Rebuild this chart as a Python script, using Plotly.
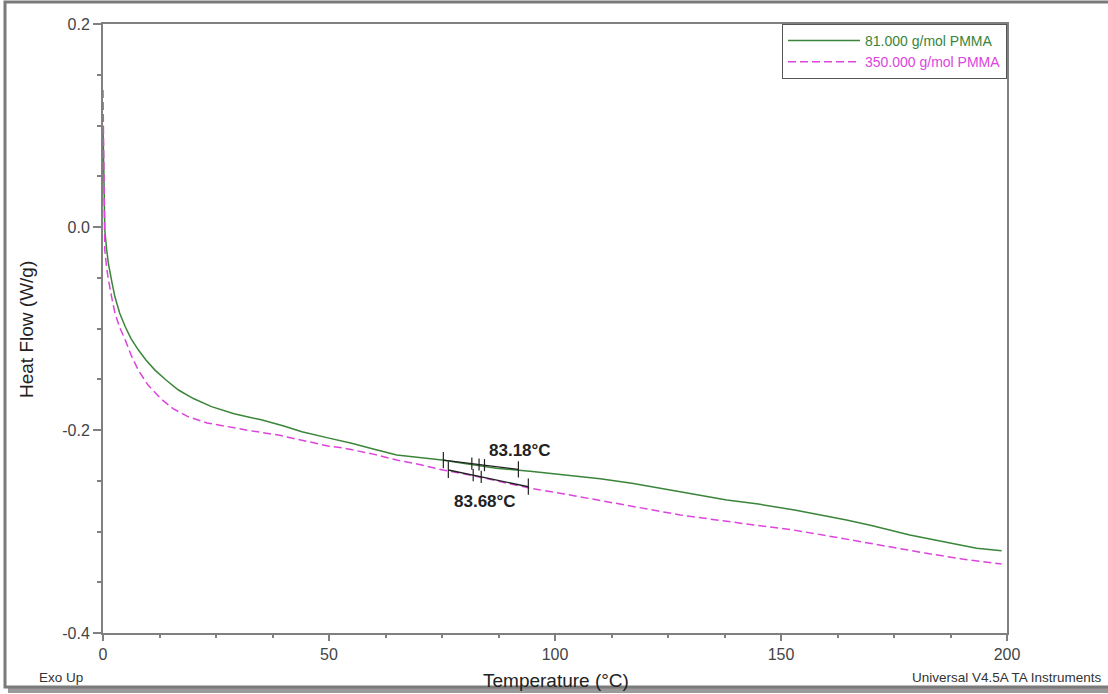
import plotly.graph_objects as go

# ---------------- data ----------------
temp_81k = [0, 0.15, 0.3, 0.4, 0.8, 1.2, 2, 2.65, 3.7, 4.9, 6.2, 7.8, 9.5, 11.5, 14, 16.7,
            20, 24, 29, 35, 40, 44, 50, 55, 60, 65, 70, 75, 80, 87, 95, 102, 110, 117,
            123, 128, 138, 145, 153, 158, 164.5, 170, 178.5, 186, 193.3, 198.8]
heat_81k = [0.10, 0.06, 0.02, -0.003, -0.022, -0.036, -0.055, -0.069, -0.085, -0.098,
            -0.110, -0.121, -0.131, -0.141, -0.151, -0.1606, -0.169, -0.177, -0.184,
            -0.190, -0.196, -0.2017, -0.208, -0.213, -0.219, -0.2246, -0.227, -0.2296,
            -0.233, -0.2377, -0.241, -0.244, -0.248, -0.2525, -0.257, -0.261, -0.269,
            -0.273, -0.2788, -0.283, -0.2887, -0.294, -0.3034, -0.310, -0.3166, -0.319]

temp_350k = [0, 0.1, 0.2, 0.4, 0.8, 1.2, 2, 2.65, 3.7, 4.9, 6.2, 7.8, 10, 13, 15.5, 18.9,
             23, 27.7, 33, 38.8, 45, 50, 53.5, 60, 65, 70, 75.2, 82, 88, 94.5, 102, 109.2,
             118, 123.2, 127.7, 138, 145, 152.7, 160, 167.5, 175, 182.2, 190, 198.8]
heat_350k = [0.135, 0.09, 0.04, -0.0227, -0.040, -0.052, -0.071, -0.085, -0.099, -0.111,
             -0.126, -0.141, -0.156, -0.170, -0.179, -0.187, -0.193, -0.197, -0.201,
             -0.205, -0.211, -0.216, -0.218, -0.224, -0.2296, -0.234, -0.2394, -0.245,
             -0.251, -0.2574, -0.263, -0.269, -0.276, -0.2805, -0.2837, -0.290, -0.294,
             -0.2985, -0.304, -0.310, -0.316, -0.3215, -0.327, -0.332]

series_names = ["81.000 g/mol PMMA", "350.000 g/mol PMMA"]
series_colors = ["#3a853a", "#dd44dd"]

# glass-transition analysis (onset / mid / end temperatures and heat flow at ends)
tg_values = [83.18, 83.68]
tg_start_temp = [75.3, 76.4]
tg_start_heat = [-0.2296, -0.2394]
tg_end_temp = [91.9, 94.1]
tg_end_heat = [-0.2388, -0.2559]
tg_mid_marks = [[81.6, 83.2, 84.4], [81.9, 83.68]]
tg_label_temp = [92.3, 84.5]
tg_label_heat = [-0.2197, -0.270]

x_tickvals = [0, 50, 100, 150, 200]
x_ticktext = ["0", "50", "100", "150", "200"]
y_tickvals = [0.2, 0.0, -0.2, -0.4]
y_ticktext = ["0.2", "0.0", "-0.2", "-0.4"]

# ---------------- figure ----------------
W, H = 1108, 694
L, R, T, B = 103, 101, 24, 61
PW, PH = W - L - R, H - T - B


def px(x):
    return (x - L) / PW


def py(y):
    return (H - B - y) / PH


fig = go.Figure()

fig.add_trace(go.Scatter(
    x=temp_81k, y=heat_81k, mode="lines",
    name="<span style='color:%s'>%s</span>" % (series_colors[0], series_names[0]),
    line=dict(color=series_colors[0], width=1.5)))
fig.add_trace(go.Scatter(
    x=temp_350k, y=heat_350k, mode="lines",
    name="<span style='color:%s'>%s</span>" % (series_colors[1], series_names[1]),
    line=dict(color=series_colors[1], width=1.5, dash="8px,4px")))

shapes = []
# outer frame with shadow
shapes.append(dict(type="rect", xref="paper", yref="paper", layer="below",
                   x0=px(8), x1=px(1115), y0=py(693), y1=py(6),
                   fillcolor="#9a9a9a", line=dict(width=0)))
shapes.append(dict(type="rect", xref="paper", yref="paper", layer="below",
                   x0=px(5), x1=px(1112), y0=py(687), y1=py(2),
                   fillcolor="white", line=dict(color="#7a7a7a", width=3)))

# Tg analysis marks
tick_h = 0.008
for i in range(2):
    shapes.append(dict(type="line", xref="x", yref="y",
                       x0=tg_start_temp[i], y0=tg_start_heat[i],
                       x1=tg_end_temp[i], y1=tg_end_heat[i],
                       line=dict(color="#222222", width=1.3)))
    for tx, ty in ((tg_start_temp[i], tg_start_heat[i]), (tg_end_temp[i], tg_end_heat[i])):
        shapes.append(dict(type="line", xref="x", yref="y",
                           x0=tx, x1=tx, y0=ty - tick_h, y1=ty + tick_h,
                           line=dict(color="#222222", width=1.2)))
    slope = (tg_end_heat[i] - tg_start_heat[i]) / (tg_end_temp[i] - tg_start_temp[i])
    for mx in tg_mid_marks[i]:
        my = tg_start_heat[i] + slope * (mx - tg_start_temp[i])
        shapes.append(dict(type="line", xref="x", yref="y",
                           x0=mx, x1=mx, y0=my - 0.006, y1=my + 0.006,
                           line=dict(color="#222222", width=1.2)))

FONT = "Arial, Liberation Sans"
annotations = []
for i in range(2):
    annotations.append(dict(x=tg_label_temp[i], y=tg_label_heat[i], xref="x", yref="y",
                            text="<b>%.2f°C</b>" % tg_values[i], showarrow=False,
                            xanchor="center", yanchor="middle",
                            font=dict(family=FONT, size=17, color="#222222")))

annotations.append(dict(x=px(556), y=py(680), xref="paper", yref="paper",
                        text="Temperature (°C)", showarrow=False,
                        xanchor="center", yanchor="middle",
                        font=dict(family=FONT, size=19, color="#222222")))
annotations.append(dict(x=px(26), y=py(330), xref="paper", yref="paper",
                        text="Heat Flow (W/g)", showarrow=False, textangle=-90,
                        xanchor="center", yanchor="middle",
                        font=dict(family=FONT, size=19, color="#222222")))
annotations.append(dict(x=px(37), y=py(677), xref="paper", yref="paper",
                        text="Exo Up", showarrow=False, xanchor="left", yanchor="middle",
                        font=dict(family=FONT, size=13.5, color="#333333")))
annotations.append(dict(x=px(1104), y=py(677), xref="paper", yref="paper",
                        text="Universal V4.5A TA Instruments", showarrow=False,
                        xanchor="right", yanchor="middle",
                        font=dict(family=FONT, size=13.5, color="#333333")))

axis_font = dict(family=FONT, size=16, color="#444444")

fig.update_layout(
    width=W, height=H,
    margin=dict(l=L, r=R, t=T, b=B),
    paper_bgcolor="white", plot_bgcolor="white",
    showlegend=True,
    legend=dict(x=1, y=1, xanchor="right", yanchor="top",
                bordercolor="#555555", borderwidth=1, bgcolor="white",
                itemwidth=72, tracegroupgap=0,
                font=dict(family=FONT, size=14)),
    shapes=shapes,
    annotations=annotations,
    xaxis=dict(range=[0, 200], tickvals=x_tickvals, ticktext=x_ticktext,
               showgrid=False, zeroline=False, showline=True, linecolor="#808080",
               linewidth=2, mirror=True, ticks="outside", ticklen=6, tickwidth=1.5,
               tickcolor="#808080", tickfont=axis_font,
               minor=dict(dtick=12.5, tick0=0, ticks="outside", ticklen=3,
                          tickcolor="#808080", tickwidth=1.5, showgrid=False)),
    yaxis=dict(range=[-0.4, 0.2], tickvals=y_tickvals, ticktext=y_ticktext,
               showgrid=False, zeroline=False, showline=True, linecolor="#808080",
               linewidth=2, mirror=True, ticks="outside", ticklen=8, tickwidth=1.5,
               tickcolor="#808080", tickfont=axis_font,
               minor=dict(dtick=0.05, tick0=0, ticks="outside", ticklen=4,
                          tickcolor="#808080", tickwidth=1.5, showgrid=False)),
)

fig.write_html(
    "out.html",
    config={"displayModeBar": False},
    post_script="document.body.style.margin='0';document.body.style.overflow='hidden';",
)
